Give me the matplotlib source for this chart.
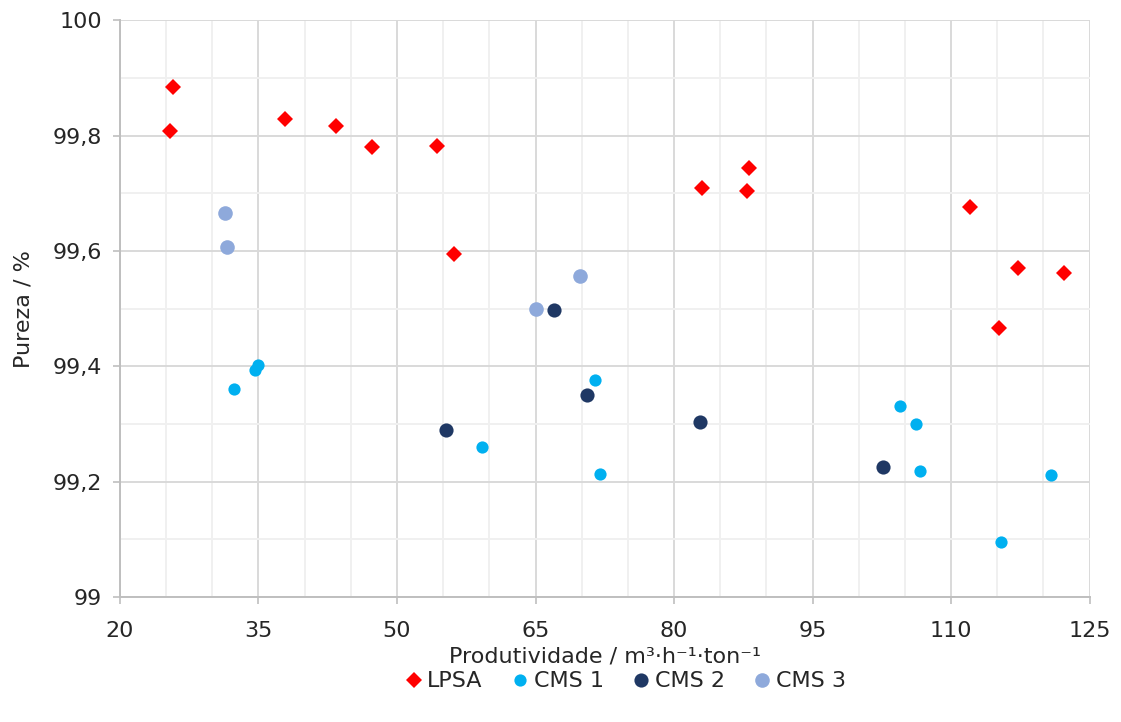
"""Pureza vs produtividade scatter (LPSA and CMS samples)."""

import matplotlib
matplotlib.use("Agg")
import matplotlib.pyplot as plt
from matplotlib.ticker import MultipleLocator, FuncFormatter

# values
lpsa_x = [25.7, 25.4, 37.9, 43.4, 47.3, 54.3, 56.2, 83.0, 88.1, 87.9, 112.0, 117.2, 115.2, 122.2]
lpsa_y = [99.884, 99.808, 99.828, 99.816, 99.780, 99.782, 99.595, 99.709, 99.744, 99.704,
          99.677, 99.570, 99.466, 99.562]

cms1_x = [32.3, 34.6, 35.0, 59.2, 71.4, 72.0, 104.5, 106.2, 106.6, 115.4, 120.8]
cms1_y = [99.360, 99.393, 99.402, 99.260, 99.376, 99.213, 99.331, 99.300, 99.218, 99.095, 99.211]

cms2_x = [55.3, 67.0, 70.6, 82.8, 102.6]
cms2_y = [99.289, 99.497, 99.351, 99.304, 99.226]

cms3_x = [31.4, 31.6, 65.0, 69.8]
cms3_y = [99.665, 99.607, 99.499, 99.556]

x_ticks = [20, 35, 50, 65, 80, 95, 110, 125]
y_ticks = [99.0, 99.2, 99.4, 99.6, 99.8, 100.0]


def comma_fmt(v, _pos):
    s = f"{v:.1f}".replace(".", ",")
    if s.endswith(",0"):
        s = s[:-2]
    return s


def main() -> None:
    plt.rcParams["font.family"] = ["DejaVu Sans"]
    text_color = "#262626"

    fig = plt.figure(figsize=(11.21, 7.22), dpi=100)
    ax = fig.add_axes([0.107, 0.173, 0.865, 0.799])

    ax.plot(lpsa_x, lpsa_y, linestyle="none", marker="D", markersize=8.2,
            color="#FF0000", markeredgewidth=0, label="LPSA", zorder=3)
    ax.plot(cms1_x, cms1_y, linestyle="none", marker="o", markersize=8.8,
            color="#00B0F0", markeredgewidth=0, label="CMS 1", zorder=3)
    ax.plot(cms2_x, cms2_y, linestyle="none", marker="o", markersize=10.2,
            color="#1F3864", markeredgewidth=0, label="CMS 2", zorder=3)
    ax.plot(cms3_x, cms3_y, linestyle="none", marker="o", markersize=10.5,
            color="#8EA9DB", markeredgewidth=0, label="CMS 3", zorder=3)

    ax.set_xlim(20, 125)
    ax.set_ylim(99, 100)
    ax.set_xticks(x_ticks)
    ax.set_yticks(y_ticks)
    ax.xaxis.set_minor_locator(MultipleLocator(5))
    ax.yaxis.set_minor_locator(MultipleLocator(0.1))
    ax.yaxis.set_major_formatter(FuncFormatter(comma_fmt))

    ax.grid(which="major", color="#D9D9D9", linewidth=1.4, zorder=0)
    ax.grid(which="minor", color="#F0F0F0", linewidth=1.4, zorder=0)
    ax.set_axisbelow(True)

    for side in ("top", "right"):
        ax.spines[side].set_visible(False)
    for side in ("left", "bottom"):
        ax.spines[side].set_color("#BFBFBF")
        ax.spines[side].set_linewidth(1.4)

    ax.tick_params(which="major", length=5, width=1.2, color="#BFBFBF",
                   labelsize=16, labelcolor=text_color)
    ax.tick_params(axis="x", which="major", pad=12)
    ax.tick_params(axis="y", which="major", pad=8)
    ax.tick_params(which="minor", length=0)

    ax.set_xlabel("Produtividade / m³·h⁻¹·ton⁻¹", fontsize=16, color=text_color, labelpad=4)
    ax.set_ylabel("Pureza / %", fontsize=16, color=text_color, labelpad=14)

    leg = ax.legend(loc="center", bbox_to_anchor=(0.52, -0.146), ncol=4, frameon=False,
                    fontsize=16, handletextpad=0.1, columnspacing=1.2, handlelength=1.0)
    for t in leg.get_texts():
        t.set_color(text_color)

    fig.savefig("out.png", dpi=100)
    plt.close(fig)


if __name__ == "__main__":
    main()
